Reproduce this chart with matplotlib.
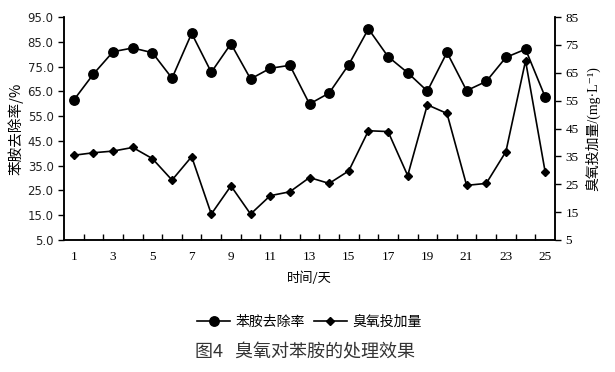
import numpy as np
import matplotlib
matplotlib.use("Agg")
import matplotlib.pyplot as plt

plt.rcParams['font.family'] = ['DejaVu Sans', 'Noto Sans CJK SC']

days = np.arange(1, 26)
removal = [61.5, 72.0, 81.0, 82.5, 80.6, 70.3, 88.4, 72.7, 84.2, 70.0,
           74.3, 75.5, 59.9, 64.3, 75.8, 90.2, 79.0, 72.5, 65.1, 80.7,
           65.3, 69.0, 78.7, 82.0, 62.7]
ozone = [35.4, 36.3, 36.9, 38.2, 34.2, 26.5, 34.9, 14.3, 24.4, 14.3,
         20.9, 22.3, 27.4, 25.3, 29.8, 44.2, 43.9, 28.1, 53.5, 50.4,
         24.6, 25.3, 36.7, 69.3, 29.4]
left_ticks = np.arange(5, 96, 10)
right_ticks = np.arange(5, 86, 10)
x_ticks = np.arange(1, 26, 2)

CJK = ['Noto Sans CJK SC', 'DejaVu Sans']
SERIF = ['Liberation Serif', 'Noto Sans CJK SC', 'DejaVu Serif']

fig = plt.figure(figsize=(6.15, 3.72), dpi=100)
ax = fig.add_axes([64 / 615, 1 - 240 / 372, 491 / 615, 223 / 372])
ax2 = ax.twinx()

l1, = ax.plot(days, removal, color='black', lw=1.2, marker='o', ms=6.8,
              label='苯胺去除率')
l2, = ax2.plot(days, ozone, color='black', lw=1.2, marker='D', ms=4.2,
               label='臭氧投加量')

ax.set_xlim(0.5, 25.5)
ax.set_ylim(5, 95)
ax2.set_ylim(5, 85)
ax.set_yticks(left_ticks)
ax.set_yticklabels([f"{v:.1f}" for v in left_ticks], fontsize=8.5, color='#222')
ax2.set_yticks(right_ticks)
ax2.set_yticklabels([str(v) for v in right_ticks], family=SERIF, fontsize=9.5)
ax.set_xticks(x_ticks)
ax.set_xticklabels([str(v) for v in x_ticks], family=SERIF, fontsize=9.5)
ax.set_xticks(np.arange(1.5, 25, 1), minor=True)
ax.tick_params(axis='x', which='major', length=0, pad=8)
ax.tick_params(axis='x', which='minor', direction='in', length=4, width=1)
ax.tick_params(axis='y', direction='out', length=4, width=1)
ax2.tick_params(axis='y', direction='out', length=4, width=1)

for a in (ax, ax2):
    a.spines['top'].set_visible(False)
    for s in ('left', 'right', 'bottom'):
        a.spines[s].set_linewidth(1.1)

ax.set_ylabel('苯胺去除率/%', family=CJK, fontsize=10.5, labelpad=3)
ax2.set_ylabel('臭氧投加量/(mg·L⁻¹)', family=SERIF, fontsize=10,
               rotation=90, labelpad=5)
ax.set_xlabel('时间/天', family=CJK, fontsize=9.5, labelpad=6)

fig.legend(handles=[l1, l2], loc='center', bbox_to_anchor=(0.503, 1 - 322 / 372),
           ncol=2, frameon=False, prop={'family': CJK, 'size': 10},
           handlelength=2.4, columnspacing=0.6, handletextpad=0.4)

fig.text(0.496, 1 - 352 / 372, '图4   臭氧对苯胺的处理效果', family=CJK,
         fontsize=13, color='#333333', ha='center', va='center')

fig.savefig('out.png', dpi=100)
